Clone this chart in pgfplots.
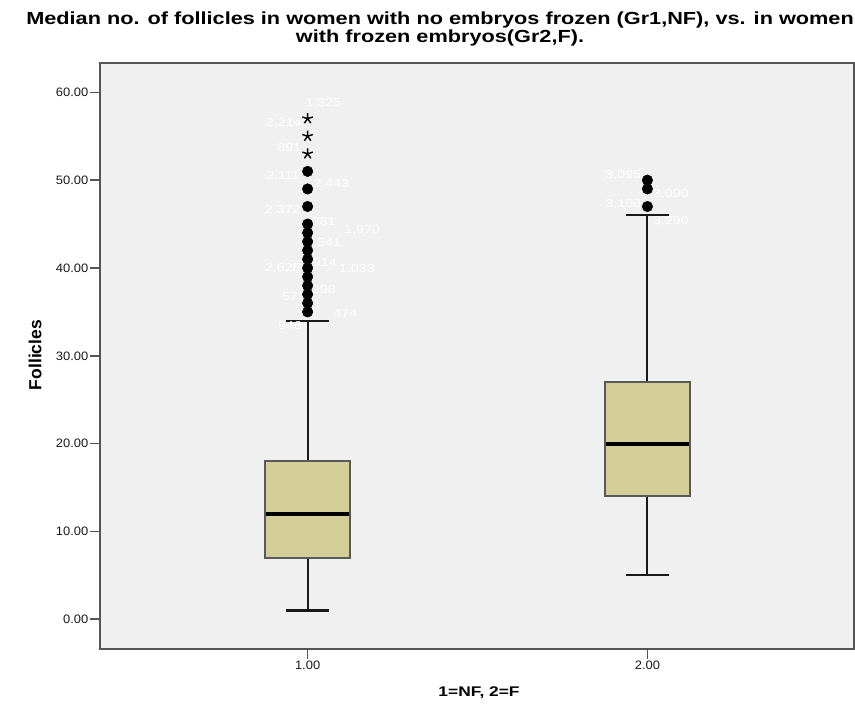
\documentclass[border=0pt]{standalone}
\usepackage{pgfplots}
\pgfplotsset{compat=1.18}
\usepackage{fontspec}
\setmainfont{Liberation Sans}[FakeStretch=1.24]
\newfontfamily\plainsans{Liberation Sans}
\newfontfamily\ticksans{Liberation Sans}[FakeStretch=1.06]
\definecolor{bgc}{HTML}{F0F0F0}
\definecolor{boxc}{RGB}{211,206,151}
\definecolor{framec}{HTML}{555555}
\definecolor{tickc}{HTML}{1A1A1A}
\begin{document}
\begin{tikzpicture}
\path[use as bounding box] (0bp,0bp) rectangle (855bp,711bp);
\begin{axis}[
  at={(100bp,62.3bp)}, anchor=south west,
  scale only axis, width=754bp, height=585.7bp,
  xmin=0.389, xmax=2.608, ymin=-3.35, ymax=63.34,
  axis background/.style={fill=bgc},
  axis line style={framec, line width=2bp},
  xtick={1,2}, xticklabels={1.00,2.00},
  ytick={0,10,20,30,40,50,60},
  yticklabels={0.00,10.00,20.00,30.00,40.00,50.00,60.00},
  tick pos=left, tick align=outside,
  major tick length=10bp,
  every tick/.style={framec, line width=1.6bp},
  ticklabel style={font=\ticksans\fontsize{12.2bp}{14bp}\selectfont, text=tickc},
  yticklabel style={inner sep=1.5bp},
  xticklabel style={inner sep=2.5bp},
  clip=false,
  whisk/.style={black!90, line width=2.1bp, mark=none},
  boxsty/.style={fill=boxc, draw=black!65, line width=1.8bp, mark=none},
  med/.style={black, line width=4bp, mark=none},
]
% ---- group 1: lw=1, q1=7, med=12, q3=18, uw=34
\addplot[whisk] coordinates {(1,1) (1,7)};
\addplot[whisk] coordinates {(1,18) (1,34)};
\addplot[whisk] coordinates {(0.9375,1) (1.0625,1)};
\addplot[whisk] coordinates {(0.9375,34) (1.0625,34)};
\addplot[boxsty] coordinates {(0.875,7) (1.125,7) (1.125,18) (0.875,18)} -- cycle;
\addplot[med] coordinates {(0.877,12) (1.123,12)};
% ---- group 2: lw=5, q1=14, med=20, q3=27, uw=46
\addplot[whisk] coordinates {(2,5) (2,14)};
\addplot[whisk] coordinates {(2,27) (2,46)};
\addplot[whisk] coordinates {(1.9375,5) (2.0625,5)};
\addplot[whisk] coordinates {(1.9375,46) (2.0625,46)};
\addplot[boxsty] coordinates {(1.875,14) (2.125,14) (2.125,27) (1.875,27)} -- cycle;
\addplot[med] coordinates {(1.877,20) (2.123,20)};
% outliers (circles)
\addplot[only marks, mark=*, mark size=5.3bp, black] coordinates {
 (1,35) (1,36) (1,37) (1,38) (1,39) (1,40) (1,41) (1,42) (1,43) (1,44) (1,45)
 (1,47) (1,49) (1,51)
 (2,47) (2,49) (2,50)};
% extreme values (stars)
\addplot[only marks, mark=star, mark size=5.5bp, black, line width=1.4bp] coordinates {
 (1,53) (1,55) (1,57)};
% case labels
\begin{scope}[every node/.style={font=\fontsize{11.5bp}{13bp}\selectfont, text=white, inner sep=0pt}]
\node at (axis cs:1.0465,58.78) {1,325};
\node at (axis cs:0.930,56.5) {2,214};
\node at (axis cs:0.946,53.66) {891};
\node at (axis cs:0.927,50.47) {2,111};
\node at (axis cs:1.070,49.56) {2,443};
\node at (axis cs:0.927,46.6) {2,372};
\node at (axis cs:1.048,45.24) {381};
\node at (axis cs:1.161,44.33) {1,970};
\node at (axis cs:1.046,42.85) {2,541};
\node at (axis cs:0.927,40.0) {2,628};
\node at (axis cs:1.051,40.57) {914};
\node at (axis cs:1.145,39.88) {1,033};
\node at (axis cs:1.048,37.49) {298};
\node at (axis cs:0.960,36.7) {572};
\node at (axis cs:1.111,34.76) {474};
\node at (axis cs:0.948,33.39) {946};
\node at (axis cs:1.929,50.59) {3,095};
\node at (axis cs:2.069,48.43) {3,090};
\node at (axis cs:1.929,47.29) {3,100};
\node at (axis cs:2.069,45.35) {3,290};
\end{scope}
\end{axis}
\node[align=center, font=\fontsize{17.5bp}{18bp}\selectfont\bfseries, inner sep=0pt] at (440bp,682bp)
  {Median no. of follicles in women with no embryos frozen (Gr1,NF), vs. in women\\with frozen embryos(Gr2,F).};
\node[rotate=90, font=\plainsans\fontsize{17.5bp}{20bp}\selectfont\bfseries, inner sep=0pt] at (35bp,356bp) {Follicles};
\node[font=\fontsize{14bp}{16bp}\selectfont\bfseries, inner sep=0pt] at (479bp,18bp) {1=NF, 2=F};
\end{tikzpicture}
\end{document}
